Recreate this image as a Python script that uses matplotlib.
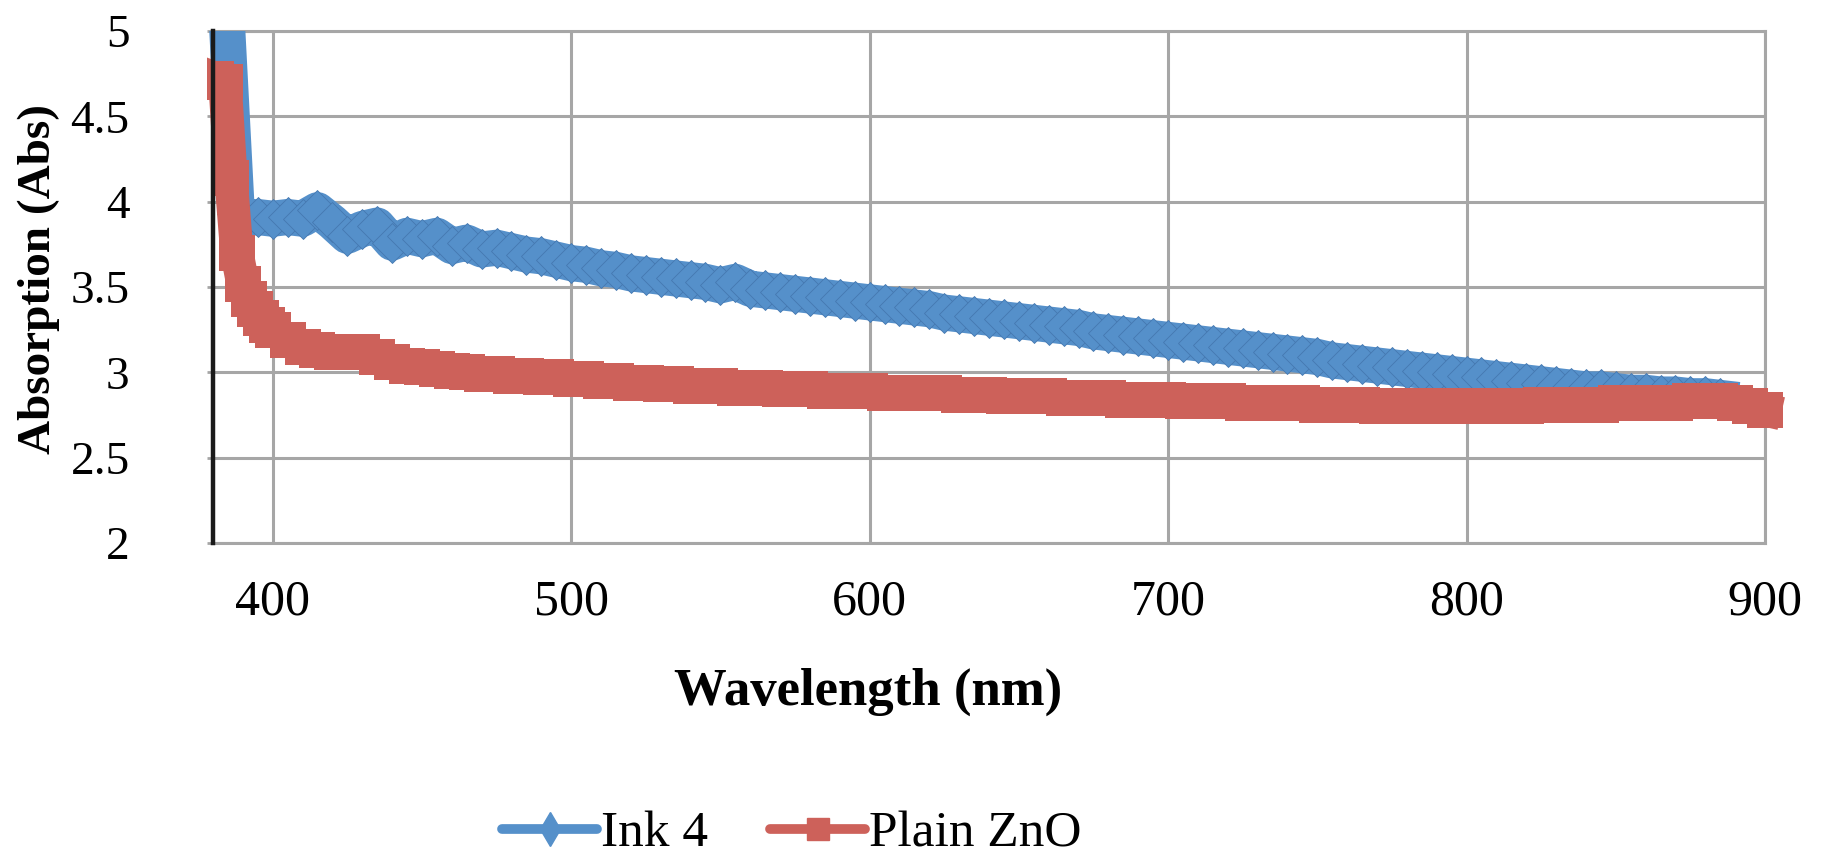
import matplotlib
matplotlib.use("Agg")
import matplotlib.pyplot as plt
from matplotlib.lines import Line2D
from matplotlib.transforms import Bbox, TransformedBbox

# values
ink4_wl = [383, 388, 390, 395, 400, 405, 410, 415, 420, 425, 430, 435, 440, 445,
           450, 455, 460, 465, 470, 475, 480, 485, 490, 495, 500, 505, 510, 515,
           520, 525, 530, 535, 540, 545, 550, 555, 560, 565, 570, 575, 580, 585,
           590, 595, 600, 605, 610, 615, 620, 625, 630, 635, 640, 645, 650, 655,
           660, 665, 670, 675, 680, 685, 690, 695, 700, 705, 710, 715, 720, 725,
           730, 735, 740, 745, 750, 755, 760, 765, 770, 775, 780, 785, 790, 795,
           800, 805, 810, 815, 820, 825, 830, 835, 840, 845, 850, 855, 860, 865,
           870, 875, 880, 885]
ink4_abs = [5.60, 3.93, 3.90, 3.91, 3.90, 3.91, 3.90, 3.95, 3.88, 3.80, 3.84, 3.86,
            3.76, 3.80, 3.78, 3.80, 3.74, 3.76, 3.72, 3.73, 3.71, 3.69, 3.68, 3.66,
            3.64, 3.63, 3.61, 3.60, 3.58, 3.57, 3.56, 3.55, 3.54, 3.53, 3.51, 3.53,
            3.49, 3.48, 3.47, 3.46, 3.45, 3.44, 3.43, 3.42, 3.41, 3.40, 3.39, 3.38,
            3.37, 3.35, 3.34, 3.33, 3.32, 3.31, 3.30, 3.29, 3.28, 3.27, 3.26, 3.24,
            3.23, 3.22, 3.21, 3.20, 3.19, 3.18, 3.17, 3.16, 3.15, 3.14, 3.13, 3.12,
            3.11, 3.10, 3.09, 3.07, 3.06, 3.05, 3.04, 3.03, 3.02, 3.01, 3.00, 2.99,
            2.98, 2.97, 2.96, 2.95, 2.94, 2.93, 2.92, 2.91, 2.90, 2.90, 2.89, 2.88,
            2.88, 2.87, 2.87, 2.86, 2.86, 2.85]

zno_wl = [381, 384, 386, 388, 390, 392, 394, 396, 398, 400, 405, 410, 415, 420,
          425, 430, 435, 440, 445, 450, 455, 460, 465, 470, 475, 480, 485, 490,
          495, 500, 505, 510, 515, 520, 525, 530, 535, 540, 545, 550, 555, 560,
          565, 570, 575, 580, 585, 590, 595, 600, 605, 610, 615, 620, 625, 630,
          635, 640, 645, 650, 655, 660, 665, 670, 675, 680, 685, 690, 695, 700,
          705, 710, 715, 720, 725, 730, 735, 740, 745, 750, 755, 760, 765, 770,
          775, 780, 785, 790, 795, 800, 805, 810, 815, 820, 825, 830, 835, 840,
          845, 850, 855, 860, 865, 870, 875, 880, 885, 890, 895, 900]
zno_abs = [4.72, 4.70, 4.14, 3.70, 3.52, 3.43, 3.37, 3.32, 3.28, 3.25, 3.19, 3.15,
           3.13, 3.12, 3.12, 3.12, 3.09, 3.06, 3.04, 3.03, 3.02, 3.01, 3.00, 2.99,
           2.99, 2.98, 2.98, 2.97, 2.97, 2.96, 2.96, 2.95, 2.95, 2.94, 2.94, 2.93,
           2.93, 2.92, 2.92, 2.92, 2.91, 2.91, 2.91, 2.90, 2.90, 2.90, 2.89, 2.89,
           2.89, 2.89, 2.88, 2.88, 2.88, 2.88, 2.88, 2.87, 2.87, 2.87, 2.86, 2.86,
           2.86, 2.86, 2.85, 2.85, 2.85, 2.85, 2.84, 2.84, 2.84, 2.84, 2.83, 2.83,
           2.83, 2.83, 2.82, 2.82, 2.82, 2.82, 2.82, 2.81, 2.81, 2.81, 2.81, 2.80,
           2.80, 2.80, 2.80, 2.80, 2.80, 2.80, 2.80, 2.80, 2.80, 2.80, 2.81, 2.81,
           2.81, 2.81, 2.81, 2.82, 2.82, 2.82, 2.82, 2.82, 2.83, 2.83, 2.83, 2.82,
           2.80, 2.78]

x_ticks = [400, 500, 600, 700, 800, 900]
y_ticks = [2, 2.5, 3, 3.5, 4, 4.5, 5]
y_tick_labels = ["2", "2.5", "3", "3.5", "4", "4.5", "5"]

BLUE = "#5590CA"
RED = "#CD615A"
GRID = "#A6A6A6"

plt.rcParams['font.family'] = ['Liberation Serif', 'DejaVu Serif']

fig = plt.figure(figsize=(18.23, 8.6), dpi=100)
ax = fig.add_axes([213 / 1823, 1 - 543 / 860, (1765 - 213) / 1823, (543 - 31) / 860])

ax.set_xlim(380, 900)
ax.set_ylim(2, 5)

# thick line + dense markers gives the solid band look of the original
l1, = ax.plot(ink4_wl, ink4_abs, color=BLUE, lw=26, marker='D', ms=20,
              mfc=BLUE, mec='#4578B0', mew=0.6, zorder=3)
l2, = ax.plot(zno_wl, zno_abs, color=RED, lw=24, marker='s', ms=26,
              mfc=RED, mec=RED, mew=0, zorder=4)
# markers may spill a little past the left/right edges, as in the original
for ln in (l1, l2):
    ln.set_clip_path(None)
    ln.set_clip_box(TransformedBbox(Bbox([[-0.004, 0], [1.015, 1]]), ax.transAxes))

ax.set_xticks(x_ticks)
ax.set_yticks(y_ticks)
ax.set_yticklabels(y_tick_labels)
ax.grid(True, color=GRID, lw=2.2)
ax.set_axisbelow(True)

for side in ('top', 'right', 'bottom'):
    ax.spines[side].set_color(GRID)
    ax.spines[side].set_linewidth(2.2)
ax.spines['left'].set_color('#1a1a1a')
ax.spines['left'].set_linewidth(3.2)
ax.spines['left'].set_zorder(6)

ax.tick_params(axis='y', length=4, width=2, color=GRID, pad=56, labelsize=34)
ax.tick_params(axis='x', length=0, pad=26, labelsize=36)

ax.set_xlabel('Wavelength (nm)', fontsize=38, fontweight='bold')
ax.xaxis.set_label_coords((868 - 213) / 1552, -0.244)
ax.set_ylabel('Absorption (Abs)', fontsize=34, fontweight='bold')
ax.yaxis.set_label_coords(-0.0986, 0.516)

h1 = Line2D([], [], color=BLUE, lw=7, marker='d', ms=17, solid_capstyle='round')
h2 = Line2D([], [], color=RED, lw=7, marker='s', ms=16, solid_capstyle='round')
fig.legend(handles=[h1, h2], labels=['Ink 4', 'Plain ZnO'], loc='center',
           bbox_to_anchor=(792 / 1823, 1 - 834 / 860), ncol=2, frameon=False,
           fontsize=37, handlelength=1.85, handletextpad=0.08, columnspacing=1.2)

fig.savefig('out.png', dpi=100)
